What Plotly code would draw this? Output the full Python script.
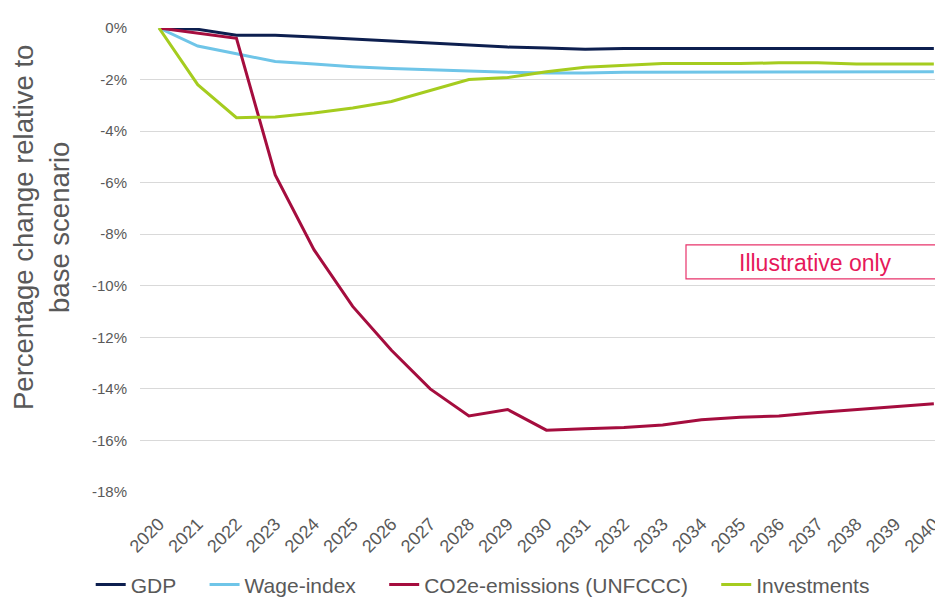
import plotly.graph_objects as go

years = [str(y) for y in range(2020, 2041)]
gdp = [0, -0.05, -0.28, -0.28, -0.35, -0.43, -0.5, -0.58, -0.66, -0.74, -0.78, -0.82, -0.8, -0.8, -0.8, -0.8, -0.8, -0.8, -0.8, -0.8, -0.8]
wage = [0, -0.7, -1.0, -1.3, -1.4, -1.5, -1.57, -1.62, -1.68, -1.72, -1.75, -1.75, -1.72, -1.72, -1.7, -1.7, -1.7, -1.7, -1.7, -1.7, -1.7]
co2 = [0, -0.2, -0.4, -5.7, -8.6, -10.8, -12.5, -14.0, -15.05, -14.8, -15.6, -15.55, -15.5, -15.4, -15.2, -15.1, -15.05, -14.92, -14.8, -14.7, -14.58]
invest = [0, -2.2, -3.48, -3.45, -3.3, -3.1, -2.85, -2.42, -2.0, -1.92, -1.7, -1.52, -1.45, -1.38, -1.38, -1.38, -1.35, -1.35, -1.4, -1.4, -1.4]

series = [
    ("GDP", gdp, "#0d1f4f"),
    ("Wage-index", wage, "#6fc5e8"),
    ("CO2e-emissions (UNFCCC)", co2, "#a50d3e"),
    ("Investments", invest, "#a5cc1f"),
]
yticks = list(range(0, -19, -2))

fig = go.Figure()
for i, (name, vals, col) in enumerate(series):
    label = name + ("\u00a0" * 4 if i < len(series) - 1 else "")
    fig.add_trace(go.Scatter(x=list(range(len(years))), y=vals, name=label, mode="lines",
                             line=dict(color=col, width=3)))

fig.update_layout(
    width=935, height=597,
    margin=dict(l=140, r=0, t=28, b=105, autoexpand=False),
    plot_bgcolor="white", paper_bgcolor="white",
    font=dict(family="Liberation Sans, Arial, sans-serif", color="#595959"),
    showlegend=True,
    legend=dict(orientation="h", x=-0.062, xanchor="left", y=-0.2, yanchor="middle",
                font=dict(size=21, color="#595959"), itemwidth=30, traceorder="normal"),
    xaxis=dict(range=[-0.49, 20.03], tickmode="array", tickvals=list(range(len(years))),
               ticktext=years, tickangle=-45, tickfont=dict(size=18, color="#595959"),
               showgrid=False, zeroline=False, showline=False, ticks="",
               ticklabelstandoff=17, ticklabeloverflow="allow", automargin=False),
    yaxis=dict(range=[-18, 0], tickmode="array", tickvals=yticks,
               ticktext=[f"{v}%" for v in yticks], tickfont=dict(size=15, color="#595959"),
               showgrid=True, gridcolor="#d9d9d9", gridwidth=1, zeroline=False,
               showline=False, ticks="", ticklabelstandoff=12, automargin=False),
)

fig.add_annotation(xref="paper", yref="paper", x=(41 - 140) / 795, xanchor="center",
                   y=(492 - 228) / 464, yanchor="middle",
                   text="Percentage change relative to<br>base scenario", textangle=-90,
                   showarrow=False, font=dict(size=27.5, color="#595959"))

fig.add_shape(type="rect", xref="paper", yref="y", x0=(686 - 140) / 795, x1=1.05,
              y0=-8.41, y1=-9.73, line=dict(color="#e8336b", width=1.2), fillcolor="white",
              layer="above")
fig.add_annotation(xref="paper", yref="y", x=(815 - 140) / 795, xanchor="center",
                   y=-9.12, yanchor="middle",
                   text="Illustrative only", showarrow=False,
                   font=dict(size=23, color="#e6195a"))

fig.write_html("out.html")
